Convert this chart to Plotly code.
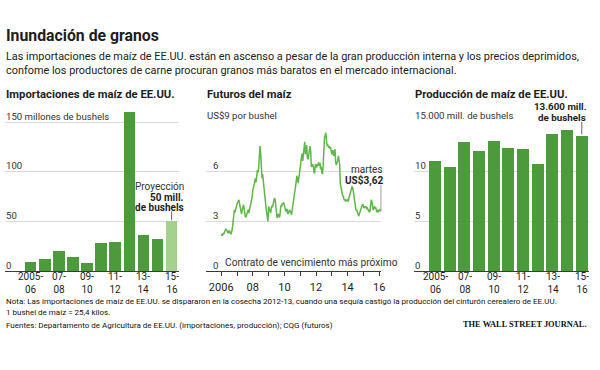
import plotly.graph_objects as go
import pandas as pd

# ---------------- data ----------------
seasons = ["2005-06", "2006-07", "2007-08", "2008-09", "2009-10", "2010-11",
           "2011-12", "2012-13", "2013-14", "2014-15", "2015-16"]
imports_mbu = [9, 12, 20, 14, 8, 28, 29, 160, 36, 32, 50]          # millones de bushels
production_bbu = [11.1, 10.5, 13.0, 12.1, 13.1, 12.4, 12.3, 10.8, 13.8, 14.2, 13.6]  # miles de mill.
projected_season = "2015-16"

season_tick_top = ["2005-", "07-", "09-", "11-", "13-", "15-"]
season_tick_bottom = ["06", "08", "10", "12", "14", "16"]
season_tick_cats = ["2005-06", "2007-08", "2009-10", "2011-12", "2013-14", "2015-16"]

# nearby corn futures, US$ per bushel, twice a month from Jan 2006
futures_start = "2006-01-01"
futures_usd = [
    # 2006
    2.12, 2.20, 2.18, 2.30, 2.22, 2.35, 2.42, 2.55, 2.48, 2.40, 2.35, 2.28,
    2.45, 2.38, 2.25, 2.22, 2.40, 2.55, 2.95, 3.25, 3.70, 3.55, 3.80, 3.90,
    # 2007
    4.05, 4.15, 4.25, 4.30, 4.05, 3.75, 3.55, 3.45, 3.70, 3.85, 4.00, 3.75,
    3.40, 3.25, 3.30, 3.45, 3.55, 3.70, 3.50, 3.65, 3.80, 3.95, 4.20, 4.45,
    # 2008
    4.85, 5.00, 5.20, 5.45, 5.60, 5.35, 5.80, 6.10, 5.95, 6.20, 6.90, 7.55,
    7.10, 6.30, 5.60, 5.85, 5.30, 5.05, 4.30, 3.95, 3.85, 3.55, 3.20, 3.00,
    # 2009
    3.90, 3.70, 3.65, 3.50, 3.75, 3.95, 3.85, 4.05, 4.25, 4.40, 4.30, 3.85,
    3.40, 3.20, 3.35, 3.45, 3.25, 3.30, 3.70, 4.00, 3.90, 4.10, 4.05, 4.15,
    # 2010
    3.95, 3.65, 3.60, 3.70, 3.75, 3.50, 3.45, 3.60, 3.70, 3.62, 3.50, 3.40,
    3.70, 3.95, 4.05, 4.30, 4.80, 5.05, 5.40, 5.75, 5.60, 5.30, 5.75, 6.05,
    # 2011
    6.25, 6.55, 6.90, 7.10, 6.65, 6.95, 7.45, 7.80, 7.05, 7.35, 7.60, 6.85,
    6.75, 6.95, 7.25, 7.55, 7.20, 6.30, 6.35, 6.45, 6.30, 5.95, 5.90, 6.40,
    # 2012
    6.45, 6.25, 6.40, 6.55, 6.55, 6.35, 6.55, 6.15, 6.30, 5.95, 5.85, 6.40,
    7.40, 8.05, 8.20, 8.35, 7.85, 7.55, 7.60, 7.50, 7.55, 7.40, 7.50, 7.10,
    # 2013
    7.05, 7.30, 7.15, 6.95, 7.25, 7.35, 6.55, 6.40, 6.55, 6.65, 6.95, 6.80,
    6.45, 5.30, 4.95, 4.75, 4.65, 4.55, 4.40, 4.30, 4.30, 4.20, 4.30, 4.25,
    # 2014
    4.30, 4.20, 4.40, 4.55, 4.75, 4.90, 5.00, 5.10, 5.00, 4.70, 4.55, 4.35,
    3.85, 3.65, 3.70, 3.60, 3.40, 3.30, 3.45, 3.60, 3.75, 3.85, 3.95, 4.05,
    # 2015
    3.95, 3.80, 3.90, 3.80, 3.92, 3.78, 3.80, 3.70, 3.62, 3.58, 3.60, 3.95,
    4.30, 4.20, 3.75, 3.68, 3.82, 3.90, 3.80, 3.82, 3.62, 3.58, 3.70, 3.60,
    # 2016
    3.65, 3.70, 3.64, 3.62,
]
futures_dates = pd.date_range(futures_start, periods=len(futures_usd), freq="SMS")

year_ticks = [f"{y}-01-01" for y in range(2006, 2017)]
year_tick_text = ["2006", "", "08", "", "10", "", "12", "", "14", "", "16"]

imports_yticks = [0, 50, 100, 150]
imports_ylabels = ["0", "50", "100", "150 millones de bushels"]
futures_yticks = [0, 3, 6, 9]
futures_ylabels = ["0", "3", "6", "US$9 por bushel"]
production_yticks = [0, 5, 10, 15]
production_ylabels = ["0", "5", "10", "15.000 mill. de bushels"]

# ---------------- styling ----------------
W, H = 600, 370
FONT = "Roboto, 'Noto Sans', sans-serif"
BAR = "#4b9b3d"
BAR_PROJ = "#a6d08e"
LINE = "#5fb649"
GRID = "#d9d9d9"
AXIS = "#3a3a3a"
TXT = "#1e1e1e"


def px(x):
    return x / W


def py(y):
    return 1 - y / H


BASE = 271.0
Y_DOM_BOTTOM = py(BASE)
Y_DOM_TOP = py(122.0)

fig = go.Figure()

fig.add_trace(go.Bar(
    x=seasons, y=imports_mbu,
    marker=dict(color=[BAR_PROJ if s == projected_season else BAR for s in seasons],
                line=dict(width=0)),
    width=0.82, xaxis="x", yaxis="y", hoverinfo="skip", showlegend=False))

fig.add_trace(go.Scatter(
    x=futures_dates, y=futures_usd, mode="lines",
    line=dict(color=LINE, width=1.5),
    xaxis="x2", yaxis="y2", hoverinfo="skip", showlegend=False))

fig.add_trace(go.Bar(
    x=seasons, y=production_bbu,
    marker=dict(color=BAR, line=dict(width=0)),
    width=0.82, xaxis="x3", yaxis="y3", hoverinfo="skip", showlegend=False))

common_x = dict(showgrid=False, zeroline=False, showline=True, linecolor=AXIS,
                linewidth=1.2, fixedrange=True)
common_y = dict(showgrid=True, gridcolor=GRID, gridwidth=1, zeroline=False,
                showticklabels=False, ticks="", showline=False, fixedrange=True)

imp_top_px = BASE - 165 * (149 / 150)

fig.update_layout(
    width=W, height=H, autosize=False,
    margin=dict(l=0, r=0, t=0, b=0),
    paper_bgcolor="white", plot_bgcolor="white",
    font=dict(family=FONT, color=TXT),
    bargap=0,
    xaxis=dict(domain=[px(5), px(180)], type="category", range=[-1.817, 10.507],
               showticklabels=False, ticks="", **common_x),
    yaxis=dict(domain=[Y_DOM_BOTTOM, py(imp_top_px)], range=[0, 165],
               tickvals=imports_yticks[1:], anchor="x", **common_y),
    xaxis2=dict(domain=[px(207), px(384)], type="date",
                range=["2005-01-05", "2016-02-22"],
                tickvals=year_ticks, ticktext=year_tick_text,
                ticks="outside", ticklen=4, tickwidth=1, tickcolor=AXIS,
                ticklabelstandoff=2,
                tickfont=dict(size=11, color=TXT, family=FONT), anchor="y2",
                **common_x),
    yaxis2=dict(domain=[Y_DOM_BOTTOM, Y_DOM_TOP], range=[0, 9],
                tickvals=futures_yticks[1:], anchor="x2", **common_y),
    xaxis3=dict(domain=[px(417), px(593)], type="category", range=[-1.445, 10.495],
                showticklabels=False, ticks="", anchor="y3", **common_x),
    yaxis3=dict(domain=[Y_DOM_BOTTOM, Y_DOM_TOP], range=[0, 15],
                tickvals=production_yticks[1:], anchor="x3", **common_y),
)

ann = []


def text(x, y, s, size, bold=False, anchor="left", color=TXT, family=FONT):
    ann.append(dict(x=px(x), y=py(y), xref="paper", yref="paper", text=f"<b>{s}</b>" if bold else s,
                    showarrow=False, xanchor=anchor, yanchor="middle",
                    font=dict(size=size, color=color, family=family)))


# headline
text(4, 35, "Inundación de granos", 15.8, bold=True)
text(4, 57, "Las importaciones de maíz de EE.UU. están en ascenso a pesar de la gran producción interna y los precios deprimidos,", 10.9, color="#222")
text(4, 70, "confome los productores de carne procuran granos más baratos en el mercado internacional.", 10.9, color="#222")

# panel titles
text(4, 94.5, "Importaciones de maíz de EE.UU.", 11.3, bold=True)
text(206, 94.5, "Futuros del maíz", 11.3, bold=True)
text(416, 94.5, "Producción de maíz de EE.UU.", 11.3, bold=True)

# y labels (placed just above each gridline)
for v, lab in zip(imports_yticks, imports_ylabels):
    ann.append(dict(x=px(4), xref="paper", y=v, yref="y", text=lab, showarrow=False,
                    xanchor="left", yanchor="middle", yshift=6,
                    font=dict(size=9.6, color="#333", family=FONT)))
for v, lab in zip(futures_yticks, futures_ylabels):
    xx = 206 if v == futures_yticks[-1] else 212
    ann.append(dict(x=px(xx), xref="paper", y=v, yref="y2", text=lab, showarrow=False,
                    xanchor="left", yanchor="middle", yshift=6,
                    font=dict(size=9.6, color="#333", family=FONT)))
for v, lab in zip(production_yticks, production_ylabels):
    ann.append(dict(x=px(416), xref="paper", y=v, yref="y3", text=lab, showarrow=False,
                    xanchor="left", yanchor="middle", yshift=6,
                    font=dict(size=9.6, color="#333", family=FONT)))

# category labels (two lines) under the bar charts
for xa in ("x", "x3"):
    for cat, top, bot in zip(season_tick_cats, season_tick_top, season_tick_bottom):
        ann.append(dict(x=cat, xref=xa, y=py(282.5), yref="paper", text=f"{top}<br>{bot}",
                        showarrow=False, xanchor="center", yanchor="middle",
                        font=dict(size=10, color=TXT, family=FONT)))

# callouts
text(187, 186.5, "Proyección", 10, anchor="right", color="#333")
text(187, 197, "50 mill.", 10, bold=True, anchor="right")
text(187, 207.5, "de bushels", 10, bold=True, anchor="right")

text(387.5, 169, "martes", 10, anchor="right", color="#333")
text(387.5, 180, "US$3,62", 10, bold=True, anchor="right")
text(224, 262, "Contrato de vencimiento más próximo", 10.2, color="#333")

text(593, 107, "13.600 mill.", 9.8, bold=True, anchor="right")
text(592, 117, "de bushels", 9.8, bold=True, anchor="right")

# footer
text(4, 301, "Nota: Las importaciones de maíz de EE.UU. se dispararon en la cosecha 2012-13, cuando una sequía castigó la producción del cinturón cerealero de EE.UU.", 8, color="#111")
text(4, 312, "1 bushel de maíz = 25,4 kilos.", 8, color="#111")
text(4, 325, "Fuentes: Departamento de Agricultura de EE.UU. (importaciones, producción); CQG (futuros)", 8, color="#111")
text(593, 324, "THE WALL STREET JOURNAL.", 8.4, bold=True, anchor="right", color="#111",
     family="'Liberation Serif', 'DejaVu Serif', serif")

fig.update_layout(annotations=ann)

# leader lines
shapes = [
    dict(type="line", xref="x", yref="y", x0=seasons[-1], x1=seasons[-1],
         y0=imports_mbu[-1] + 1, y1=imports_mbu[-1] + 10, line=dict(color="#666", width=1)),
    dict(type="line", xref="x2", yref="y2", x0=futures_dates[-1], x1=futures_dates[-1],
         y0=futures_usd[-1], y1=5.2, line=dict(color="#666", width=1)),
    dict(type="line", xref="x3", yref="y3", x0=seasons[-1], x1=seasons[-1],
         y0=production_bbu[-1] + 0.15, y1=15.0, line=dict(color="#666", width=1)),
]
fig.update_layout(shapes=shapes)

fig.write_html("out.html", config={"displayModeBar": False},
               post_script="document.body.style.margin='0';")
